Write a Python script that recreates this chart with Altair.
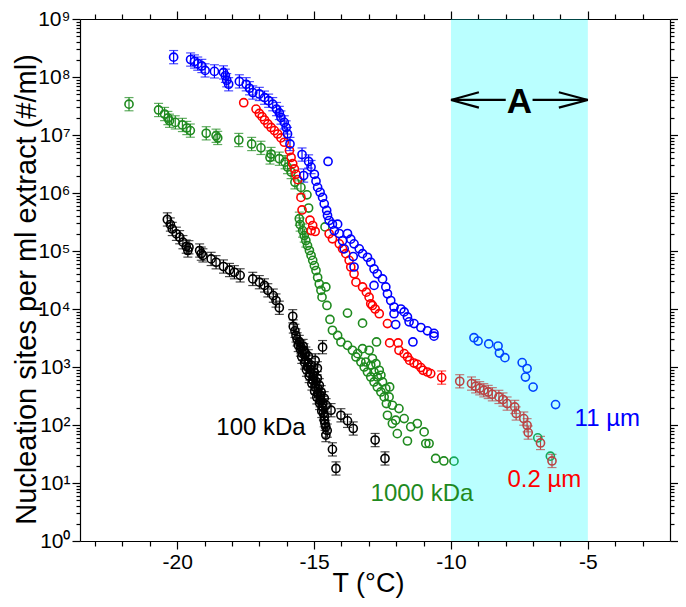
import altair as alt
import pandas as pd

FONT = "Liberation Sans"

# ---------------- data ----------------
blue_T = [-20.13, -19.51, -19.37, -19.25, -19.10, -18.98, -18.64, -18.31, -18.24, -18.19,
          -18.12, -17.73, -17.48, -17.36, -17.24, -17.00, -16.81, -16.66, -16.51, -16.37,
          -16.27, -16.21, -16.09, -16.02, -15.97, -15.88, -15.44, -15.20, -14.49, -15.38,
          -15.11, -14.99, -14.93, -14.87, -14.78, -14.69, -14.63, -14.54, -14.51, -14.45,
          -14.33, -14.14, -14.26, -14.08, -13.78, -13.96, -13.66, -13.54, -13.90, -13.57,
          -13.35, -13.23, -13.05, -13.54, -12.93, -12.81, -12.69, -12.81, -12.50, -12.38,
          -12.32, -12.20, -12.08, -12.08, -11.83, -11.71, -11.59, -11.53, -12.02, -11.35,
          -11.10, -10.86, -10.62, -10.62, -11.39, -9.16, -9.01, -8.62, -8.28, -8.23,
          -8.03, -7.40, -7.22, -7.28, -7.00, -6.18]
blue_N = [2.2e8, 2.0e8, 1.85e8, 1.7e8, 1.55e8, 1.3e8, 1.25e8, 1.2e8, 1.05e8, 8.8e7,
          7.5e7, 8.4e7, 7.5e7, 6.4e7, 5.4e7, 5.1e7, 4.4e7, 3.9e7, 3.4e7, 2.8e7,
          2.4e7, 2.0e7, 1.65e7, 1.35e7, 1.04e7, 7.0e6, 4.6e6, 3.5e6, 3.5e6, 2.0e6,
          2.8e6, 2.1e6, 1.6e6, 1.25e6, 1.03e6, 8.4e5, 6.5e5, 5.0e5, 4.1e5, 3.35e5,
          2.9e5, 2.9e5, 2.25e5, 2.0e5, 2.0e5, 1.5e5, 1.6e5, 1.33e5, 1.09e5, 8.0e4,
          1.09e5, 9.0e4, 7.8e4, 5.3e4, 6.4e4, 4.9e4, 4.05e4, 2.55e4, 3.3e4, 2.4e4,
          1.83e4, 1.4e4, 1.08e4, 8.3e3, 1.0e4, 8.9e3, 7.3e3, 6.0e3, 5.4e3, 5.6e3,
          4.8e3, 4.2e3, 3.8e3, 3.4e3, 2.7e3, 3.2e3, 2.8e3, 2.5e3, 2.3e3, 1.74e3,
          1.45e3, 1.19e3, 940, 670, 450, 225]

red_T = [-17.57, -17.12, -17.00, -16.90, -16.81, -16.69, -16.57, -16.45, -16.33, -16.21,
         -16.09, -15.90, -15.84, -15.78, -15.72, -15.66, -15.60, -15.48, -15.44, -15.15,
         -15.05, -15.11, -14.96, -14.45, -14.33, -14.08, -13.96, -13.84, -13.72, -13.66,
         -13.54, -13.47, -13.23, -13.09, -12.99, -12.93, -12.87, -12.77, -12.62, -12.32,
         -12.24, -11.93, -11.90, -11.71, -11.59, -11.51, -11.35, -11.23, -11.10, -11.02,
         -10.86, -10.74, -10.34, -9.68, -9.25, -9.10, -8.95, -8.80, -8.64, -8.49,
         -8.25, -8.10, -7.95, -7.67, -7.62, -7.34, -7.22, -7.18, -6.73, -6.31]
red_N = [3.6e7, 2.8e7, 2.35e7, 2.07e7, 1.81e7, 1.55e7, 1.35e7, 1.19e7, 1.04e7, 8.9e6,
         7.5e6, 5.4e6, 4.1e6, 3.2e6, 2.6e6, 2.1e6, 1.7e6, 8.4e5, 5.1e5, 3.4e5,
         2.75e5, 2.25e5, 2.17e5, 1.98e5, 1.62e5, 1.33e5, 1.09e5, 9.0e4, 6.9e4, 5.3e4,
         4.05e4, 2.9e4, 2.4e4, 1.95e4, 1.6e4, 1.23e4, 1.15e4, 1.0e4, 8.3e3, 5.6e3,
         2.6e3, 2.6e3, 1.94e3, 1.7e3, 1.49e3, 1.3e3, 1.17e3, 1.11e3, 977, 877,
         820, 770, 657, 567, 518, 465, 430, 397, 371, 339,
         305, 275, 234, 205, 158, 129, 99, 74, 49, 24]

green_T = [-21.76, -20.68, -20.46, -20.34, -20.28, -20.07, -19.81, -19.65, -19.52, -18.94,
           -18.58, -18.52, -17.75, -17.28, -16.94, -16.57, -16.61, -16.27, -16.06, -15.97,
           -15.84, -15.70, -15.48, -15.26, -15.20, -15.54, -15.51, -15.42, -15.36, -15.30,
           -15.24, -15.17, -15.11, -15.05, -14.99, -14.93, -14.87, -14.81, -14.75, -14.71,
           -14.57, -14.53, -14.60, -13.78, -14.42, -13.23, -14.33, -14.14, -14.02, -13.78,
           -13.60, -13.41, -13.23, -12.99, -12.72, -13.11, -12.93, -12.81, -12.69, -12.62,
           -12.50, -12.38, -12.26, -12.14, -12.32, -12.02, -11.96, -11.71, -11.47, -11.23,
           -10.98, -11.59, -10.92, -10.80, -10.56, -10.26, -9.89,
           -13.47, -13.29, -13.17, -13.05, -12.93, -12.81, -12.69, -12.56, -12.44, -12.36,
           -12.87, -12.74, -12.56, -12.24, -11.90, -12.14, -6.83, -6.37]
green_N = [3.4e7, 2.7e7, 2.3e7, 1.96e7, 1.76e7, 1.65e7, 1.49e7, 1.32e7, 1.19e7, 1.07e7,
           9.7e6, 8.9e6, 8.2e6, 7.0e6, 6.0e6, 4.7e6, 4.1e6, 3.9e6, 3.4e6, 2.8e6,
           2.3e6, 1.53e6, 1.25e6, 9.3e5, 5.5e5, 3.6e5, 2.86e5, 2.25e5, 1.85e5, 1.52e5,
           1.24e5, 1.02e5, 8.4e4, 6.9e4, 5.6e4, 4.6e4, 3.5e4, 2.7e4, 2.1e4, 1.6e4,
           2.4e4, 1.15e4, 2.6e5, 8.5e3, 6.6e3, 5.7e3, 4.3e3, 3.5e3, 2.7e3, 2.36e3,
           1.94e3, 1.7e3, 2.07e3, 1.94e3, 2.7e3, 1.22e3, 1.07e3, 820, 673, 877,
           552, 425, 305, 219, 147, 121, 71, 129, 93, 106,
           76, 53, 48, 48, 26.5, 24, 23.8,
           1.49e3, 1.22e3, 1.0e3, 820, 673, 552, 453, 371, 305, 234,
           1.4e3, 1.14e3, 720, 453, 192, 106, 60, 29]

black_T = [-20.36, -20.25, -20.18, -20.03, -19.91, -19.79, -19.67, -19.61, -19.57, -19.18,
           -19.12, -19.06, -18.76, -18.58, -18.31, -18.09, -17.91, -17.70, -17.24, -17.00,
           -16.81, -16.69, -16.49, -16.39, -16.27, -15.78, -15.76, -15.66, -15.54, -15.48,
           -15.42, -15.37, -15.32, -15.24, -15.21, -15.15, -15.10, -15.05, -14.99, -14.97,
           -14.96, -14.88, -14.88, -14.87, -14.81, -14.78, -14.74, -14.71, -14.66, -14.63,
           -14.63, -14.57, -14.56, -14.57, -14.69, -14.38, -14.02, -13.78, -13.57, -14.33,
           -14.20, -12.77, -12.41,
           -15.70, -15.62, -15.58, -15.50, -15.45, -15.40, -15.35, -15.30, -15.28, -15.22,
           -15.18, -15.12, -15.08, -15.02, -14.98, -14.92, -14.90, -14.85, -14.80, -14.76,
           -14.72, -14.68, -14.62, -14.60, -14.52]
black_N = [3.5e5, 2.86e5, 2.4e5, 1.98e5, 1.73e5, 1.42e5, 1.19e5, 1.02e5, 1.16e5, 1.02e5,
           9.0e4, 8.4e4, 7.3e4, 6.4e4, 5.4e4, 4.7e4, 4.3e4, 3.8e4, 3.3e4, 2.9e4,
           2.55e4, 2.1e4, 1.7e4, 1.4e4, 1.05e4, 7.5e3, 5.0e3, 3.5e3, 2.7e3, 2.2e3,
           1.7e3, 1.94e3, 1.3e3, 1.0e3, 1.53e3, 770, 1.07e3, 590, 811, 453,
           1.3e3, 950, 639, 348, 484, 267, 367, 205, 158, 289,
           121, 93, 219, 67, 2.2e3, 180, 147, 118, 87, 38,
           17.8, 55, 26.5,
           4.2e3, 3.0e3, 2.4e3, 2.0e3, 1.5e3, 2.3e3, 1.2e3, 1.7e3, 900, 1.2e3,
           700, 900, 520, 700, 380, 560, 300, 420, 240, 320,
           175, 240, 140, 105, 80]

series_names = ["100 kDa", "1000 kDa", "0.2 µm", "11 µm"]
series_colors = ["#000000", "#1F8A1F", "#FF0000", "#0000FF"]

# temperature range (min, max) in which each series carries error bars
err_ranges = {"100 kDa": (-30, 0), "1000 kDa": (-30, -15.3),
              "0.2 µm": (-10.5, 0), "11 µm": (-30, -15.1)}
err_factor = 1.3

label_T = [-16.94, -11.06, -6.59, -4.29]
label_N = [66, 4.9, 8.6, 98]

band_T = [-10]
band_T2 = [-5]

# arrow "<-- A -->"
arrow_x = [-10, -10, -10, -7.02, -5, -5]
arrow_x2 = [-8.0, -8.98, -8.98, -5, -6.06, -6.06]
arrow_y = [4.02e7, 4.02e7, 4.02e7, 4.02e7, 4.02e7, 4.02e7]
arrow_y2 = [4.02e7, 5.45e7, 2.96e7, 4.02e7, 5.45e7, 2.96e7]
A_T = [-7.5]
A_N = [2.37e7]

# ---------------- tables ----------------
rows = []
for name, Ts, Ns in [("100 kDa", black_T, black_N), ("1000 kDa", green_T, green_N),
                     ("0.2 µm", red_T, red_N), ("11 µm", blue_T, blue_N)]:
    lo_lim, hi_lim = err_ranges[name]
    for t, n in zip(Ts, Ns):
        rows.append(dict(series=name, T=t, N=n, has_err=(lo_lim <= t <= hi_lim)))
df = pd.DataFrame(rows)
df["lo"] = df["N"] / err_factor
df["hi"] = df["N"] * err_factor
err_df = df[df["has_err"]].copy()

labels_df = pd.DataFrame(dict(series=series_names, T=label_T, N=label_N))
band_df = pd.DataFrame(dict(T=band_T, T2=band_T2))
arrow_df = pd.DataFrame(dict(x=arrow_x, x2=arrow_x2, y=arrow_y, y2=arrow_y2))
A_df = pd.DataFrame(dict(T=A_T, N=A_N, t=["A"]))

W, H = 590, 522
xs = alt.Scale(domain=[-23.55, -2.0], nice=False, zero=False)
ys = alt.Scale(type="log", domain=[1, 1e9], nice=False)
color = alt.Color("series:N", scale=alt.Scale(domain=series_names, range=series_colors), legend=None)

x_vals = list(range(-23, -2))
x_major = "datum.value % 5 == 0"
y_vals = [m * 10 ** k for k in range(0, 9) for m in range(1, 10)] + [10 ** 9]
y_major = "abs(log(datum.value)/LN10 - round(log(datum.value)/LN10)) < 1e-6"
sup = "['\u2070','\u00b9','\u00b2','\u00b3','\u2074','\u2075','\u2076','\u2077','\u2078','\u2079']"

common = dict(domainColor="black", domainWidth=1.2, tickColor="black", tickWidth=1.2,
              labelFont=FONT, titleFont=FONT, labelColor="black", titleColor="black",
              grid=False)

x_axis_bottom = alt.Axis(orient="bottom", values=x_vals,
                         labelExpr=f"{x_major} ? '' + datum.value : ''",
                         tickSize={"condition": {"test": x_major, "value": 8}, "value": 5},
                         labelFontSize=21, labelPadding=2, labelFlush=False, labelOverlap=False,
                         title="T (°C)", titleFontSize=27, titleFontWeight="normal",
                         titleX=288, titleY=50, titleBaseline="alphabetic", titleAlign="center",
                         **common)
x_axis_top = alt.Axis(orient="top", values=x_vals, labels=False, title=None,
                      tickSize={"condition": {"test": x_major, "value": 8}, "value": 5},
                      **common)
y_axis_left = alt.Axis(orient="left", values=y_vals,
                       labelExpr=f"{y_major} ? '10' + {sup}[round(log(datum.value)/LN10)] : ''",
                       tickSize={"condition": {"test": y_major, "value": 8}, "value": 4},
                       labelFontSize=21, labelPadding=2, labelFlush=False, labelOverlap=False,
                       title="Nucleation sites per ml extract (#/ml)", titleFontSize=29,
                       titleFontWeight="normal", titleX=-45, titleY=270,
                       titleBaseline="alphabetic", titleAlign="center",
                       **common)
y_axis_right = alt.Axis(orient="right", values=y_vals, labels=False, title=None,
                        tickSize={"condition": {"test": y_major, "value": 8}, "value": 4},
                        **common)

err_rule = alt.Chart(err_df).mark_rule(strokeWidth=1.2).encode(
    x=alt.X("T:Q", scale=xs, axis=None),
    y=alt.Y("lo:Q", scale=ys, axis=None),
    y2="hi:Q",
    color=color,
)
err_lo = alt.Chart(err_df).mark_tick(orient="horizontal", size=9, thickness=1.2).encode(
    x=alt.X("T:Q", scale=xs, axis=None),
    y=alt.Y("lo:Q", scale=ys, axis=None),
    color=color,
)
err_hi = alt.Chart(err_df).mark_tick(orient="horizontal", size=9, thickness=1.2).encode(
    x=alt.X("T:Q", scale=xs, axis=None),
    y=alt.Y("hi:Q", scale=ys, axis=None),
    color=color,
)
points = alt.Chart(df).mark_point(shape="circle", filled=False, size=66, strokeWidth=1.6,
                                  opacity=1).encode(
    x=alt.X("T:Q", scale=xs, axis=x_axis_bottom),
    y=alt.Y("N:Q", scale=ys, axis=y_axis_left),
    color=color,
)
band = alt.Chart(band_df).mark_rect(color="#00FFFF", opacity=0.27).encode(
    x=alt.X("T:Q", scale=xs, axis=None),
    x2="T2:Q",
    y=alt.value(0),
    y2=alt.value(H),
)
arrows = alt.Chart(arrow_df).mark_rule(color="black", strokeWidth=2.2).encode(
    x=alt.X("x:Q", scale=xs, axis=None),
    x2="x2:Q",
    y=alt.Y("y:Q", scale=ys, axis=None),
    y2="y2:Q",
)
A_text = alt.Chart(A_df).mark_text(font=FONT, fontSize=35, fontWeight="bold", color="black",
                                   baseline="alphabetic", align="center").encode(
    x=alt.X("T:Q", scale=xs, axis=None),
    y=alt.Y("N:Q", scale=ys, axis=None),
    text="t:N",
)
labels = alt.Chart(labels_df).mark_text(font=FONT, fontSize=24, baseline="alphabetic",
                                        align="center").encode(
    x=alt.X("T:Q", scale=xs, axis=x_axis_top),
    y=alt.Y("N:Q", scale=ys, axis=y_axis_right),
    text="series:N",
    color=color,
)

chart = alt.layer(err_rule, err_lo, err_hi, points, band, arrows, A_text, labels).resolve_axis(
    x="independent", y="independent"
).properties(
    width=W, height=H, autosize="none",
    padding={"left": 72, "top": 11, "right": 8, "bottom": 58},
).configure_view(stroke=None)

chart.save("out.html", embed_options={"renderer": "svg", "actions": False})
